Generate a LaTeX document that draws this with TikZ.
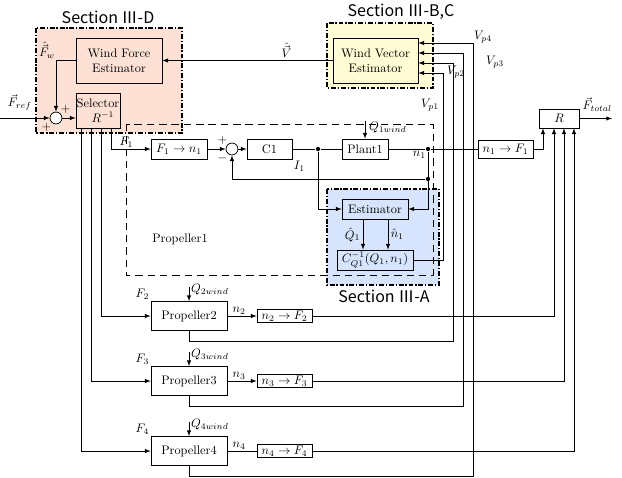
\documentclass[tikz,border=0pt]{standalone}
\usepackage{amsmath,amssymb}
\usepackage{xcolor}
\usepackage{fontspec}
\newfontfamily\sectfont{Noto Sans CJK KR}
\usepackage{tikz}
\usetikzlibrary{arrows, positioning, calc, backgrounds}
\definecolor{sectionpink}{RGB}{253, 225, 213}
\definecolor{sectionyellow}{RGB}{255, 251, 212}
\definecolor{sectionblue}{RGB}{214, 228, 253}

\begin{document}
\begin{tikzpicture}[x=0.0285cm, y=-0.0285cm, line width=0.6pt,
    block/.style={rectangle, draw, fill=white, align=center, inner sep=1pt},
    sumnode/.style={circle, draw, fill=white, minimum size=0.34cm, inner sep=0pt},
    line/.style={draw, -latex},
    dot/.style={circle, fill, inner sep=0pt, minimum size=3.5pt},
    section/.style={draw, line width=1.4pt, dash pattern=on 4pt off 1.5pt on 1pt off 1.5pt},
    title/.style={font=\sectfont\fontsize{13}{15}\selectfont}]
    \useasboundingbox (0,0) rectangle (622,478);

    % section frames
    \draw[section, fill=sectionpink] (36,28) rectangle (182,133);
    \draw[section, fill=sectionyellow] (327,23) rectangle (433,88);
    \draw[section, fill=sectionblue] (327,189) rectangle (439,285);
    \draw[dash pattern=on 6pt off 4pt] (126,124) rectangle (433,275);
    \node[title] (titleD) at (108,17) {Section Ⅲ-D};
    \node[title] (titleBC) at (401,12) {Section Ⅲ-B,C};
    \node[title] (titleA) at (384,296) {Section Ⅲ-A};
    \node (prop1) at (180,239) {Propeller1};

    % blocks
    \node[block, fill=sectionpink, minimum width=2.451cm, minimum height=1.283cm] (wfe) at (119,60.5) {Wind Force\\Estimator};
    \node[block, fill=sectionpink, minimum width=1.254cm, minimum height=0.998cm, align=left, inner sep=0.5pt] (sel) at (98,110.5) {Selector\\\hspace{12pt}$R^{-1}$};
    \node[sumnode] (sum1) at (56,118) {};
    \node[block, fill=sectionyellow, minimum width=2.423cm, minimum height=1.283cm] (wve) at (375.5,60.5) {Wind Vector\\Estimator};
    \node[block, minimum width=1.596cm, minimum height=0.57cm] (f1n1) at (179,149) {$F_1\rightarrow n_1$};
    \node[sumnode] (sum2) at (232,149) {};
    \node[block, minimum width=1.283cm, minimum height=0.57cm] (c1) at (269.5,149) {C1};
    \node[block, minimum width=1.311cm, minimum height=0.57cm] (plant1) at (365,149) {Plant1};
    \node[dot] (d1) at (318,149) {};
    \node[dot] (d2) at (428,149) {};
    \node[dot] (d3) at (428,179) {};
    \node[block, fill=sectionblue, minimum width=1.881cm, minimum height=0.57cm] (est) at (375,209) {Estimator};
    \node[block, fill=sectionblue, minimum width=2.166cm, minimum height=0.57cm] (cq) at (375,260) {$C_{Q1}^{-1}(Q_1,n_1)$};
    \node[block, minimum width=1.568cm, minimum height=0.513cm] (n1f1) at (505.5,149) {$n_1\rightarrow F_1$};
    \node[block, minimum width=1.14cm, minimum height=0.54cm] (r) at (559,118.5) {$R$};
    \node[block, minimum width=2.166cm, minimum height=0.827cm] (p2) at (189,316) {Propeller2};
    \node[block, minimum width=2.166cm, minimum height=0.827cm] (p3) at (189,381) {Propeller3};
    \node[block, minimum width=2.166cm, minimum height=0.827cm] (p4) at (189,451) {Propeller4};
    \node[block, minimum width=1.568cm, minimum height=0.37cm, inner sep=0.5pt] (n2f2) at (284.5,316) {$n_2\rightarrow F_2$};
    \node[block, minimum width=1.568cm, minimum height=0.37cm, inner sep=0.5pt] (n3f3) at (284.5,381) {$n_3\rightarrow F_3$};
    \node[block, minimum width=1.568cm, minimum height=0.37cm, inner sep=0.5pt] (n4f4) at (284.5,451) {$n_4\rightarrow F_4$};

    % free ends and corners
    \coordinate (fref) at (0,118);
    \coordinate (ftot) at (612,118.5);
    \coordinate (q1) at (365,121);
    \coordinate (q2) at (189,287);
    \coordinate (q3) at (189,352);
    \coordinate (q4) at (189,422);
    \coordinate (s1) at ($(sel.south)+(13,0)$);
    \coordinate (s2) at ($(sel.south)+(3,0)$);
    \coordinate (s3) at ($(sel.south)+(-7,0)$);
    \coordinate (s4) at ($(sel.south)+(-17,0)$);
    \coordinate (r1) at ($(r.south)+(-16,0)$);
    \coordinate (r2) at ($(r.south)+(-5,0)$);
    \coordinate (r3) at ($(r.south)+(5,0)$);
    \coordinate (r4) at ($(r.south)+(15,0)$);
    \coordinate (vp1) at ($(wve.east)+(25,12.5)$);
    \coordinate (vp2) at ($(wve.east)+(35,2.5)$);
    \coordinate (vp3) at ($(wve.east)+(45,-7.5)$);
    \coordinate (vp4) at ($(wve.east)+(55,-17.5)$);

    % force loop
    \path [line] (fref) -- node[above, pos=0.4, yshift=3pt] {$\vec{F}_{ref}$} (sum1);
    \path [line] (wfe.west) -| (sum1.north);
    \path [line] (sum1.east) -- (sum1.east -| sel.west);
    \node[below left, inner sep=0pt] (plusA) at (sum1.south west) {$+$};
    \node[above right, inner sep=0pt] (plusB) at (sum1.north east) {$+$};
    \node (fwhat) at (47,50) {$\hat{\vec{F}}_w$};
    \path [line] (wve.west) -- node[above, pos=0.27, inner sep=2pt] {$\hat{\vec{V}}$} (wfe.east);

    % propeller 1
    \path [line] (s1) |- node[above left, pos=0.8, inner sep=1pt] {$F_1$} (f1n1.west);
    \path [line] (f1n1) -- (sum2);
    \node[above left, inner sep=0pt] (plusC) at (sum2.north west) {$+$};
    \node[below left, inner sep=0pt] (minusC) at (sum2.south west) {$-$};
    \path [line] (sum2) -- (c1);
    \draw (c1) -- (d1) -- (plant1);
    \node[below right, inner sep=1pt] (i1) at (c1.south east) {$I_1$};
    \path [line] (q1) -- node[right, pos=0.35, inner sep=3pt] {$Q_{1wind}$} (plant1.north);
    \draw (plant1) -- (d2) -- (n1f1);
    \node[below left, inner sep=1.5pt] (n1lab) at (d2) {$n_1$};
    \path [line] (d2) |- (est.east);
    \path [line] (d3) -| (sum2.south);
    \path [line] (d1) |- (est.west);
    \path [line] ($(est.south)+(-12,0)$) -- node[left, inner sep=2pt] {$\hat{Q}_1$} ($(cq.north)+(-12,0)$);
    \path [line] ($(est.south)+(13,0)$) -- node[right, inner sep=2pt] {$\hat{n}_1$} ($(cq.north)+(13,0)$);
    \path [line] (cq.east) -| (vp1) -- (vp1 -| wve.east);
    \path [line] (n1f1.east) -| (r1);

    % propellers 2 to 4
    \path [line] (s2) |- (p2.west);
    \path [line] (s3) |- (p3.west);
    \path [line] (s4) |- (p4.west);
    \node[above left, inner sep=1pt] (f2lab) at (p2.north west) {$F_2$};
    \node[above left, inner sep=1pt] (f3lab) at (p3.north west) {$F_3$};
    \node[above left, inner sep=1pt] (f4lab) at (p4.north west) {$F_4$};
    \path [line] (q2) -- node[right, pos=0.2, inner sep=1.5pt] {$Q_{2wind}$} (p2.north);
    \path [line] (q3) -- node[right, pos=0.2, inner sep=1.5pt] {$Q_{3wind}$} (p3.north);
    \path [line] (q4) -- node[right, pos=0.2, inner sep=1.5pt] {$Q_{4wind}$} (p4.north);
    \path [line] (p2) -- node[above, pos=0.4, inner sep=1pt] {$n_2$} (n2f2);
    \path [line] (p3) -- node[above, pos=0.4, inner sep=1pt] {$n_3$} (n3f3);
    \draw (p4) -- node[above, pos=0.4, inner sep=1pt] {$n_4$} (n4f4);
    \path [line] (n2f2.east) -| (r2);
    \path [line] (n3f3.east) -| (r3);
    \path [line] (n4f4.east) -| (r4);
    \path [line] (p2.south) -- ++(0,10.5) -| (vp2) -- (vp2 -| wve.east);
    \path [line] (p3.south) -- ++(0,10.5) -| (vp3) -- (vp3 -| wve.east);
    \path [line] (p4.south) -- ++(0,10.5) -| (vp4) -- (vp4 -| wve.east);
    \node (vp1lab) at (430,105) {$V_{p1}$};
    \node (vp2lab) at (456,72) {$V_{p2}$};
    \node (vp3lab) at (495,62) {$V_{p3}$};
    \node (vp4lab) at (483,37) {$V_{p4}$};

    % output
    \path [line] (r.east) -- node[above, pos=0.55, yshift=2pt] {$\vec{F}_{total}$} (ftot);
\end{tikzpicture}
\end{document}
